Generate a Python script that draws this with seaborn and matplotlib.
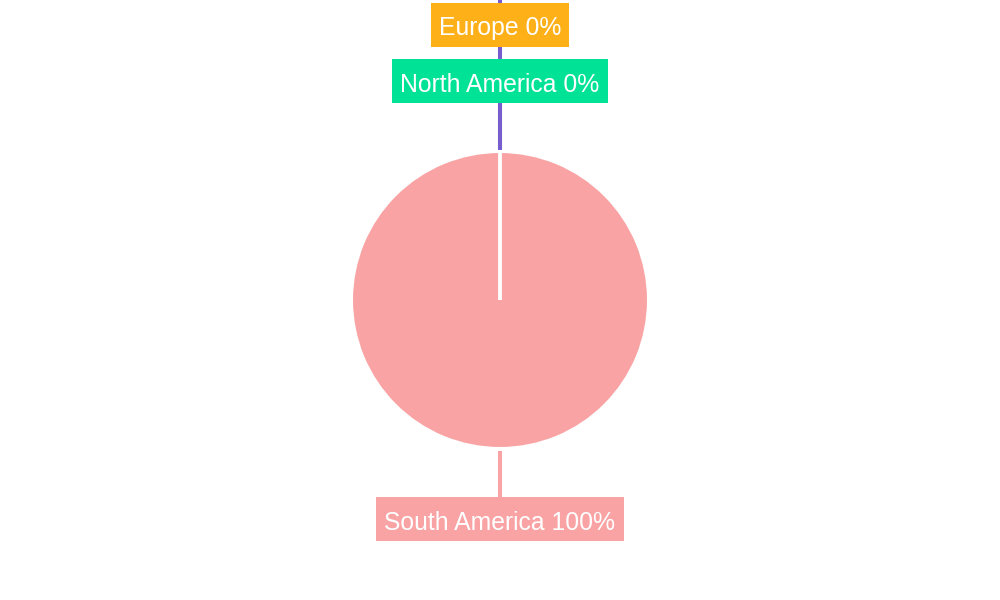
import numpy as np
import matplotlib.pyplot as plt
from matplotlib.patches import Rectangle
import seaborn as sns

# data
regions = ["South America", "North America", "Europe", "Asia"]
shares = [100, 0, 0, 0]
colors = ["#F9A3A4", "#00E396", "#FEB019", "#775DD0"]

sns.set_theme(style="white")
plt.rcParams['font.family'] = ['Liberation Sans', 'DejaVu Sans']

fig = plt.figure(figsize=(10, 6), dpi=100)
ax = fig.add_axes([0, 0, 1, 1])

cx, cy, r = 500, 300, 148.5
wedges, _ = ax.pie(shares, colors=colors, startangle=90, counterclock=False,
                   center=(cx, cy), radius=r,
                   wedgeprops=dict(edgecolor="white", linewidth=2.2))
ax.set_xlim(0, 1000)
ax.set_ylim(0, 600)
ax.set_aspect("equal")
ax.axis("off")

renderer = fig.canvas.get_renderer()
fs = 17.8
fs_px = fs * fig.dpi / 72

# labels stacked outward along each slice's middle angle
first_gap = 70.5
step = 56
used = {}
for w, name, val, col in zip(wedges, regions, shares, colors):
    mid = (w.theta1 + w.theta2) / 2
    key = round(mid % 360, 3)
    n = used.get(key, 0)
    used[key] = n + 1
    dist = r + first_gap + n * step
    ux, uy = np.cos(np.radians(mid)), np.sin(np.radians(mid))
    x0, y0 = cx + (r + 2) * ux, cy + (r + 2) * uy
    x1, y1 = cx + dist * ux, cy + dist * uy
    # later (longer) leader lines sit on top
    ax.plot([x0, x1], [y0, y1], color=col, lw=2.9, zorder=2 + n,
            solid_capstyle="butt", clip_on=True)
    if 0 <= y1 <= 600:
        t = ax.text(x1, y1 - 1, f"{name} {val}%", ha="center", va="center_baseline",
                    color="white", fontsize=fs, zorder=11)
        # box sized on the text width, fixed height around the label point
        bw = t.get_window_extent(renderer).width + 0.65 * fs_px
        bh = 1.78 * fs_px
        ax.add_patch(Rectangle((x1 - bw / 2, y1 - bh / 2), bw, bh,
                               fc=col, ec="none", zorder=10))

fig.savefig("out.png", dpi=100)
